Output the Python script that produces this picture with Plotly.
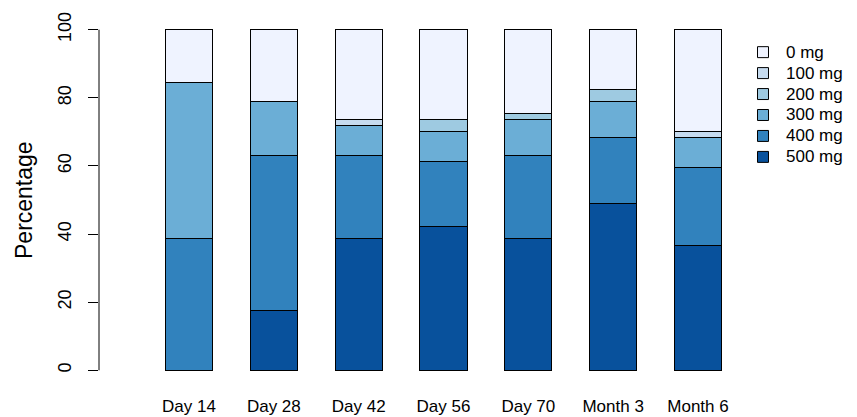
import plotly.graph_objects as go

categories = ["Day 14", "Day 28", "Day 42", "Day 56", "Day 70", "Month 3", "Month 6"]
doses = ["500 mg", "400 mg", "300 mg", "200 mg", "100 mg", "0 mg"]
mg500 = [0.0, 17.5, 38.6, 42.1, 38.6, 49.1, 36.7]
mg400 = [38.6, 45.7, 24.6, 19.2, 24.6, 19.3, 22.9]
mg300 = [45.8, 15.8, 8.8, 8.8, 10.4, 10.6, 8.8]
mg200 = [0.0, 0.0, 0.0, 3.5, 1.7, 3.4, 0.0]
mg100 = [0.0, 0.0, 1.6, 0.0, 0.0, 0.0, 1.8]
mg0 = [15.6, 21.0, 26.4, 26.4, 24.7, 17.6, 29.8]
series = [mg500, mg400, mg300, mg200, mg100, mg0]
colors = ["#08519C", "#3182BD", "#6BAED6", "#9ECAE1", "#C6DBEF", "#EFF3FF"]
yticks = [0, 20, 40, 60, 80, 100]

FONT = "Liberation Sans, Arial, Helvetica, sans-serif"

# figure geometry (the page body adds an 8px offset)
W, H = 849, 409
ML, MR, MT, MB = 91, 117, 19.6, 44.6
PW, PH = W - ML - MR, H - MT - MB
OFF = 8


def px_x(page_x):
    return (page_x - OFF - ML) / PW


def px_y(page_y):
    return 1 - (page_y - OFF - MT) / PH


fig = go.Figure()
for name, vals, col in zip(doses, series, colors):
    fig.add_trace(go.Bar(
        x=categories, y=vals, name=name, width=0.556, showlegend=False,
        marker=dict(color=col, line=dict(color="#000000", width=1)),
    ))

shapes = [dict(
    type="line", xref="paper", yref="y", x0=0, x1=0, y0=0, y1=100,
    line=dict(color="#000000", width=1),
)]
annotations = [dict(
    text="Percentage", xref="paper", yref="paper", x=0, y=0.5, xshift=-75,
    xanchor="center", yanchor="middle", textangle=-90, showarrow=False,
    font=dict(size=23, family=FONT),
)]

# manual legend: 0 mg at top down to 500 mg
leg_names = doses[::-1]
leg_colors = colors[::-1]
for i, (nm, col) in enumerate(zip(leg_names, leg_colors)):
    yc = 51.8 + i * 21.0
    shapes.append(dict(
        type="rect", xref="paper", yref="paper",
        x0=px_x(757.5), x1=px_x(768.5), y0=px_y(yc + 5.5), y1=px_y(yc - 5.5),
        fillcolor=col, line=dict(color="#000000", width=1),
    ))
    annotations.append(dict(
        text=nm, xref="paper", yref="paper", x=px_x(783.5), y=px_y(yc),
        xanchor="left", yanchor="middle", showarrow=False,
        font=dict(size=17, family=FONT, color="#000000"),
    ))

fig.update_layout(
    barmode="stack",
    width=W, height=H,
    margin=dict(l=ML, r=MR, t=MT, b=MB, autoexpand=False),
    paper_bgcolor="white", plot_bgcolor="white",
    font=dict(family=FONT, size=17, color="#000000"),
    showlegend=False,
    xaxis=dict(
        range=[-1.061, 6.495], showgrid=False, zeroline=False, showline=False,
        ticks="", ticklabelstandoff=22, tickfont=dict(size=17), automargin=False,
    ),
    yaxis=dict(
        range=[-0.5, 100.5], tickvals=yticks, showgrid=False, zeroline=False,
        showline=False, ticks="outside", ticklen=10, tickwidth=1, tickcolor="#000000",
        tickangle=-90, tickfont=dict(size=18), ticklabelstandoff=10, automargin=False,
    ),
    annotations=annotations,
    shapes=shapes,
)

fig.write_html("out.html")
